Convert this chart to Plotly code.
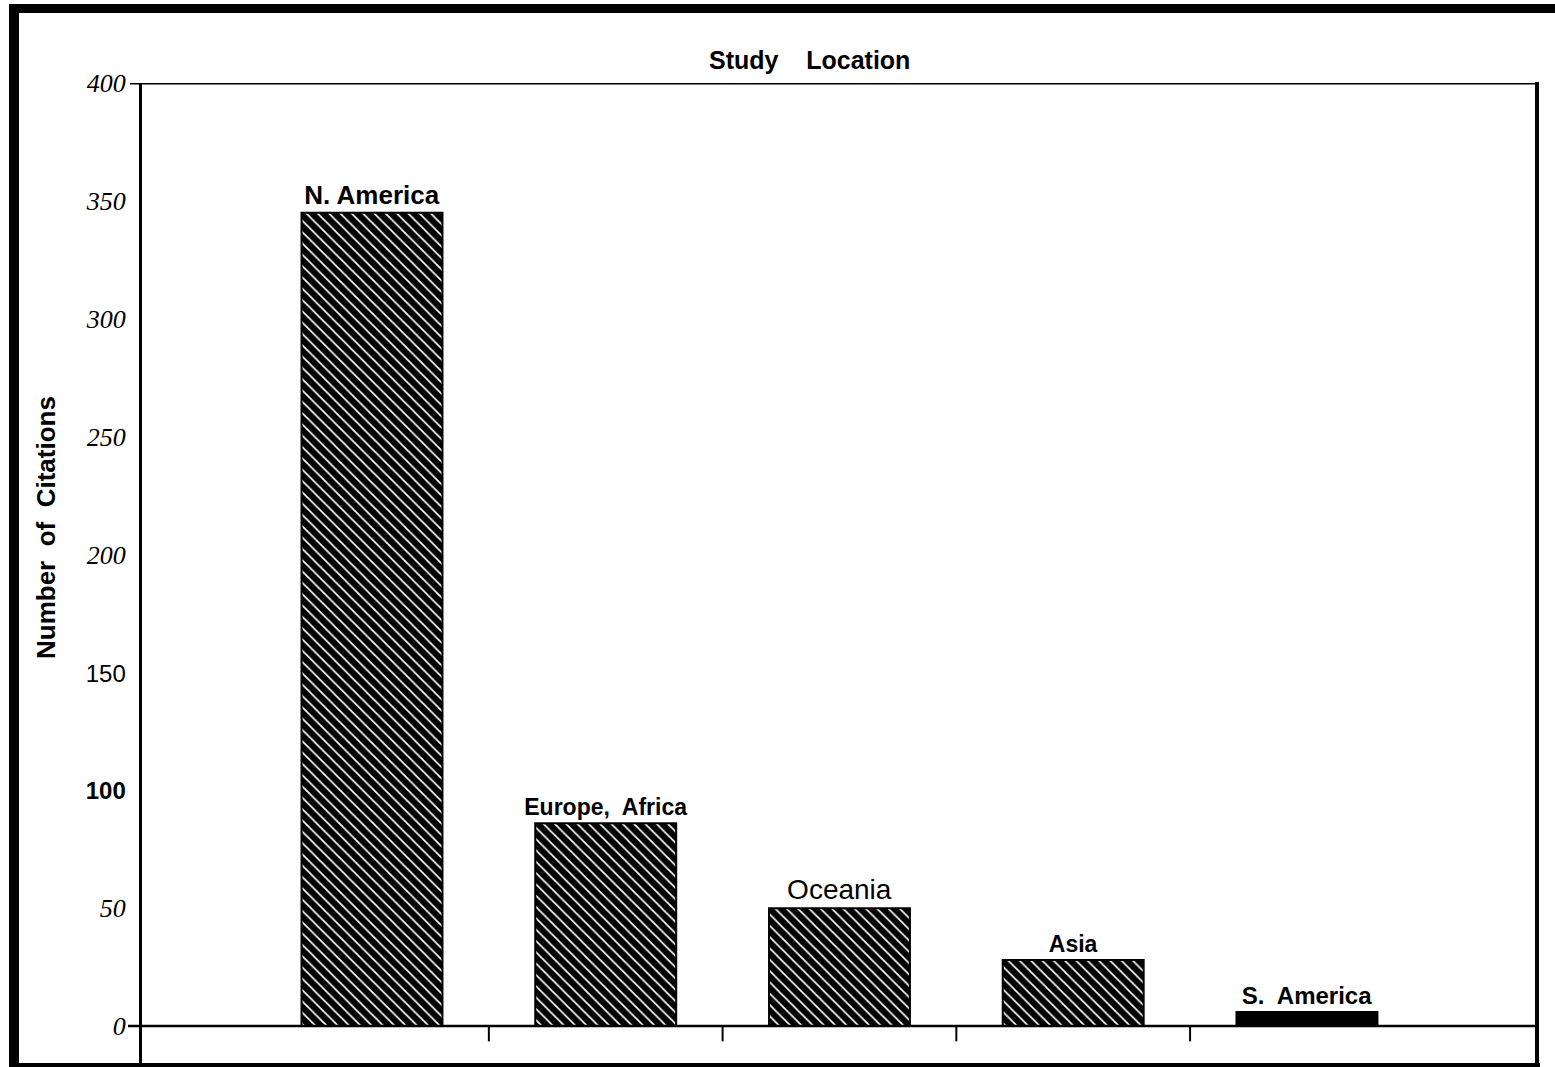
import plotly.graph_objects as go

# data
regions = ["N. America", "Europe, Africa", "Oceania", "Asia", "S. America"]
citations = [345, 86, 50, 28, 6]
bar_labels = ["<b>N. America</b>", "<b>Europe,\u00a0 Africa</b>", "Oceania",
              "<b>Asia</b>", "<b>S.\u00a0 America</b>"]
label_sizes = [26, 23, 28, 23, 24]
hatch = ["\\", "\\", "\\", "\\", ""]  # last bar is solid black

y_ticks = [0, 50, 100, 150, 200, 250, 300, 350, 400]
sans = "font-family:'Liberation Sans', Arial;font-size:24px"
y_ticktext = ["<i>0</i>", "<i>50</i>",
              f"<span style=\"{sans}\"><b>100</b></span>",
              f"<span style=\"{sans}\">150</span>",
              "<i>200</i>", "<i>250</i>", "<i>300</i>", "<i>350</i>", "<i>400</i>"]

W, H = 1555, 1067
L, R, T, B = 142, 1536, 83, 1064  # plot area in pixels


def px(x):
    return (x - L) / (R - L)


def py(y):
    return (B - y) / (B - T)


fig = go.Figure()
fig.add_trace(go.Bar(
    x=regions,
    y=citations,
    width=0.603,
    marker=dict(
        color="black",
        line=dict(color="black", width=2),
        pattern=dict(shape=hatch, bgcolor="black", fgcolor="white",
                     fgopacity=1, size=8, solidity=0.2),
    ),
    text=bar_labels,
    textposition="outside",
    textangle=0,
    constraintext="none",
    cliponaxis=False,
    textfont=dict(family="Liberation Sans, Arial", size=label_sizes, color="black"),
    hoverinfo="x+y",
))

shapes = [
    # outer frame (scan border)
    dict(type="rect", xref="paper", yref="paper", x0=px(9), x1=px(1556),
         y0=py(4), y1=py(13), fillcolor="black", line_width=0),
    dict(type="rect", xref="paper", yref="paper", x0=px(9), x1=px(19),
         y0=py(4), y1=py(1068), fillcolor="black", line_width=0),
    dict(type="rect", xref="paper", yref="paper", x0=px(9), x1=px(1540),
         y0=py(1063), y1=py(1068), fillcolor="black", line_width=0),
    dict(type="rect", xref="paper", yref="paper", x0=px(1535), x1=px(1539),
         y0=py(82), y1=py(1068), fillcolor="black", line_width=0),
    # top border line with the 400 tick
    dict(type="line", xref="paper", yref="y", x0=px(130), x1=1, y0=400, y1=400,
         line=dict(color="black", width=3)),
    # zero line with the 0 tick
    dict(type="line", xref="paper", yref="y", x0=px(128), x1=1, y0=0, y1=0,
         line=dict(color="black", width=2.5)),
]
# tick marks between categories, hanging from the zero line
for k in range(len(regions) - 1):
    shapes.append(dict(type="line", xref="x", yref="y", x0=k + 0.5, x1=k + 0.5,
                       y0=0, y1=-6.5, line=dict(color="black", width=2)))

fig.update_layout(
    width=W, height=H,
    margin=dict(l=L, r=W - R, t=T, b=H - B),
    paper_bgcolor="white",
    plot_bgcolor="white",
    showlegend=False,
    shapes=shapes,
    annotations=[
        dict(text="<b>Study\u00a0\u00a0\u00a0 Location</b>", xref="paper", yref="paper",
             x=px(809), y=py(60), xanchor="center", yanchor="middle", showarrow=False,
             font=dict(family="Liberation Sans, Arial", size=25, color="black")),
        dict(text="<b>Number\u00a0 of\u00a0 Citations</b>", xref="paper",
             yref="paper", x=px(46), y=py(528), xanchor="center", yanchor="middle",
             textangle=-90, showarrow=False,
             font=dict(family="Liberation Sans, Arial", size=26, color="black")),
    ],
)

fig.update_xaxes(
    range=[-0.984, 4.98],
    showticklabels=False,
    ticks="",
    showgrid=False,
    zeroline=False,
    showline=False,
)
fig.update_yaxes(
    range=[-16.1, 400],
    tickvals=y_ticks,
    ticktext=y_ticktext,
    ticks="",
    ticklabelstandoff=8,
    tickfont=dict(family="Liberation Serif, Times New Roman", size=26, color="black"),
    showgrid=False,
    zeroline=False,
    showline=True,
    linecolor="black",
    linewidth=3,
)

# drop the browser's default body margin so the figure sits at the page corner
fig.write_html("out.html", config={"displayModeBar": False},
               post_script="document.body.style.margin='0';")
